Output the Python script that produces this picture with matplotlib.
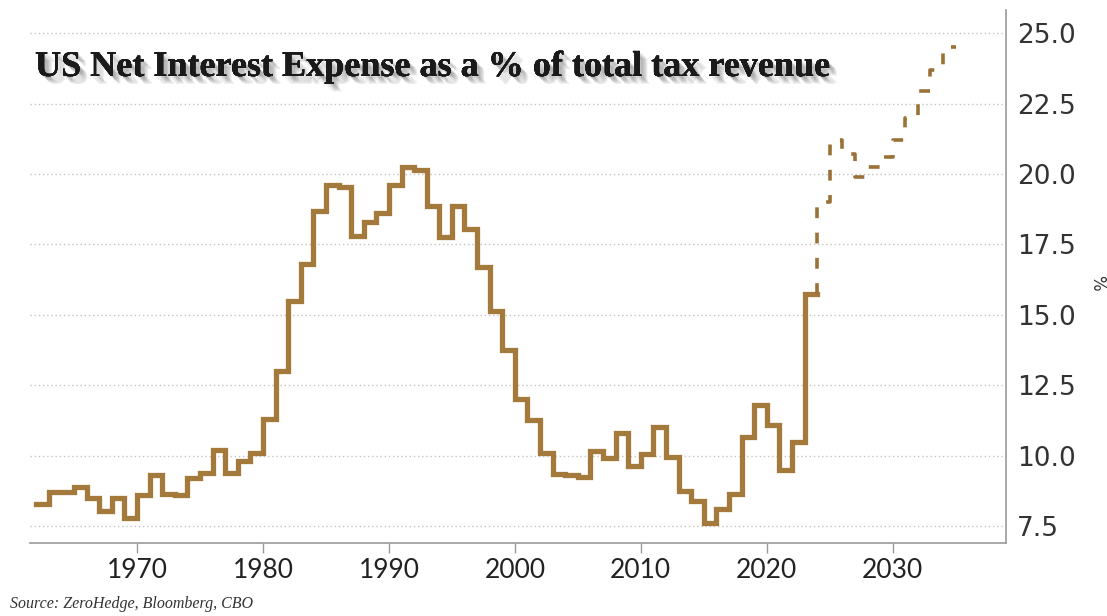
import numpy as np
import matplotlib.pyplot as plt
import matplotlib.patheffects as pe

# net interest as % of tax revenue, one value per fiscal year
years = np.arange(1962, 2024)
actual = [8.3, 8.7, 8.7, 8.9, 8.5, 8.05, 8.5, 7.8,                   # 1962-69
          8.6, 9.3, 8.65, 8.6, 9.2, 9.4, 10.2, 9.4, 9.8, 10.1,       # 1970s
          11.3, 13.0, 15.5, 16.8, 18.7, 19.6, 19.55, 17.8, 18.3, 18.6,  # 1980s
          19.6, 20.25, 20.15, 18.85, 17.75, 18.85, 18.05, 16.7, 15.15, 13.75,  # 1990s
          12.0, 11.25, 10.1, 9.35, 9.3, 9.25, 10.15, 9.9, 10.8, 9.65,  # 2000s
          10.05, 11.0, 9.95, 8.75, 8.4, 7.6, 8.1, 8.65, 10.65, 11.8,  # 2010s
          11.1, 9.5, 10.5, 15.75]                                     # 2020-23

# CBO projection
proj_years = np.arange(2024, 2035)
projected = [19.0, 21.2, 20.7, 19.9, 20.25, 20.6, 21.2, 22.0, 22.95, 23.7, 24.5]

yticks = [7.5, 10.0, 12.5, 15.0, 17.5, 20.0, 22.5, 25.0]
xticks = [1970, 1980, 1990, 2000, 2010, 2020, 2030]

line_col = '#a47a3c'

fig = plt.figure(figsize=(11.07, 6.16), dpi=100)
ax = fig.add_axes([30 / 1107, 1 - 543 / 616, 976 / 1107, 533 / 616])

# solid history, each value held across its year
x_hist = np.append(years, years[-1] + 1)
y_hist = actual + [actual[-1]]
ax.step(x_hist, y_hist, where='post', color=line_col, lw=3.8,
        solid_joinstyle='miter', zorder=3)

# dashed projection, starting from the last actual value
x_proj = np.concatenate([[proj_years[0]], proj_years, [proj_years[-1] + 1]])
y_proj = [actual[-1]] + projected + [projected[-1]]
ax.step(x_proj, y_proj, where='post', color='#9a7238', lw=2.6,
        dashes=(3.0, 4.0), dash_capstyle='butt', zorder=3)

ax.set_xlim(1961.5, 2039)
ax.set_ylim(6.9, 25.82)
ax.set_xticks(xticks)
ax.set_yticks(yticks)
ax.set_yticklabels([f'{v:.1f}' for v in yticks])

ax.yaxis.tick_right()
ax.yaxis.grid(True, linestyle=(0, (1, 2)), color='#c4c4c4', lw=1.0)
ax.set_axisbelow(True)

for s in ['top', 'left']:
    ax.spines[s].set_visible(False)
for s in ['bottom', 'right']:
    ax.spines[s].set_color('#9a9a9a')
    ax.spines[s].set_linewidth(1.2)

ax.tick_params(axis='y', length=0, pad=8, labelsize=19, labelcolor='#333333')
ax.tick_params(axis='x', length=7, width=1, color='#9a9a9a', pad=4,
               labelsize=19, labelcolor='#222222')
for lab in ax.get_xticklabels():
    lab.set_family('Lato')

# title with a soft drop shadow
shadow = [pe.withSimplePatchShadow(offset=(d, -d), shadow_rgbFace='#666666', alpha=0.14)
          for d in (1.5, 2.5, 3.5, 4.5, 5.5)]
fig.text(35 / 1107, 1 - 76 / 616, 'US Net Interest Expense as a % of total tax revenue',
         family='Liberation Serif', fontweight='bold', fontsize=26, color='#1a1a1a',
         va='baseline', ha='left', path_effects=shadow + [pe.Normal()])

fig.text(1097 / 1107, 1 - 283 / 616, '%', rotation=-90, fontsize=12,
         color='#333333', ha='center', va='center')

fig.text(10 / 1107, 1 - 608 / 616, 'Source: ZeroHedge, Bloomberg, CBO',
         family='Liberation Serif', style='italic', fontsize=11.5, color='#333333',
         va='baseline', ha='left')

# descender of a caption cut off above
fig.text(810 / 1107, 1 + 6 / 616, 'g', family='Lato', fontsize=22,
         color='#111111', ha='center', va='baseline')

fig.savefig('out.png', dpi=100)
